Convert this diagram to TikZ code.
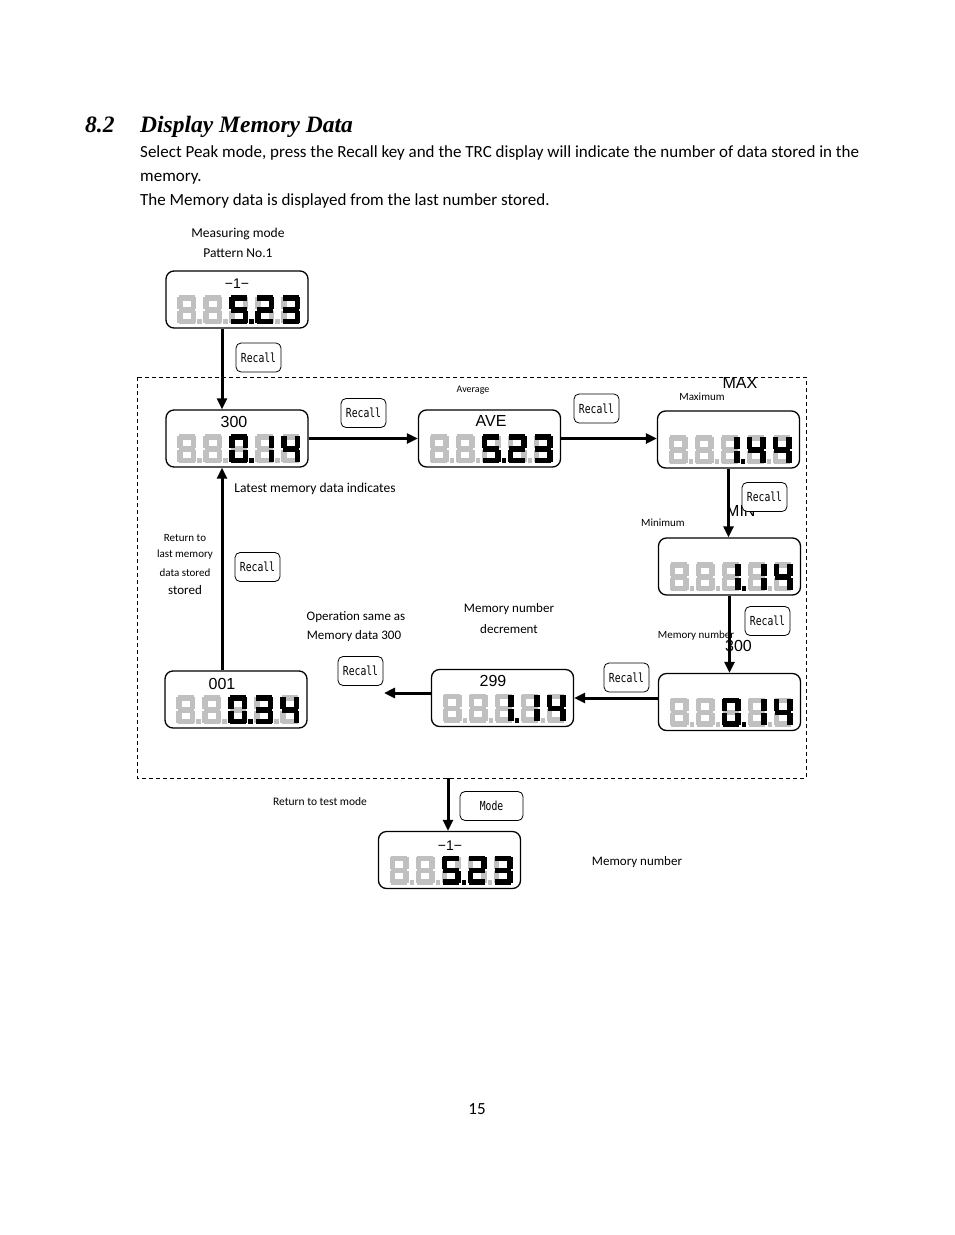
\documentclass[tikz,border=0pt]{standalone}
\usepackage{graphicx}
\usepackage{fontspec}
\setmainfont{Carlito}
\newfontfamily\headfont{Liberation Serif}
\newfontfamily\lcdfont{Liberation Sans}
\newfontfamily\keyfont{DejaVu Sans Mono}
\usetikzlibrary{arrows.meta}

\definecolor{lcdgray}{RGB}{192,192,192}

% seven segment pieces (unit = 1px, y downwards)
\def\sega{(1.5,0) rectangle (17.5,5.5)}
\def\segb{(13.5,1.5) rectangle (19,13.5)}
\def\segc{(13.5,15.5) rectangle (19,27.5)}
\def\segd{(1.5,23.5) rectangle (17.5,29)}
\def\sege{(0,15.5) rectangle (5.5,27.5)}
\def\segf{(0,1.5) rectangle (5.5,13.5)}
\def\segg{(1.5,11.75) rectangle (17.5,17.25)}
\def\segp{(20,24) rectangle (24.5,29)}

\def\dzero{a,b,c,d,e,f}
\def\done{b,c}
\def\dtwo{a,b,g,e,d}
\def\dthree{a,b,g,c,d}
\def\dfour{f,g,b,c}
\def\dfive{a,f,g,c,d}
\def\deight{a,b,c,d,e,f,g}
\def\dpoint{p}

\newcommand{\segdigit}[4]{%
  \begin{scope}[shift={(#1,#2)}]
    \foreach \s in #3 {\fill[#4] \csname seg\s\endcsname;}
  \end{scope}}

\newcommand{\lcdvalue}[4]{%
  \begin{scope}[shift={(#1.north west)}]
    \foreach \k in {0,...,4} {\segdigit{12+\k*26}{25}{\deight}{lcdgray}}
    \foreach \k in {0,1,3} {\segdigit{12+\k*26}{25}{\dpoint}{lcdgray}}
    \segdigit{64}{25}{#2}{black}
    \segdigit{64}{25}{\dpoint}{black}
    \segdigit{90}{25}{#3}{black}
    \segdigit{116}{25}{#4}{black}
  \end{scope}}

\begin{document}
\begin{tikzpicture}[x=1pt,y=-1pt,
  lcd/.style={draw,line width=1.3pt,rounded corners=8pt,minimum width=142pt,minimum height=57pt,inner sep=0pt},
  lcdtag/.style={font=\lcdfont\fontsize{16}{16}\selectfont,inner sep=0pt},
  keybtn/.style={draw,line width=0.8pt,rounded corners=5pt,fill=white,minimum width=45pt,minimum height=29pt,inner sep=0pt,font=\keyfont\fontsize{12.5}{12.5}\selectfont},
  note/.style={font=\fontsize{13.5}{14}\selectfont,inner sep=0pt},
  smallnote/.style={font=\fontsize{11}{12}\selectfont,inner sep=0pt},
  body/.style={font=\fontsize{17}{17}\selectfont,inner sep=0pt,anchor=base west},
  flow/.style={line width=3pt,-{Triangle[length=11pt,width=10pt]}}]
\useasboundingbox (0,0) rectangle (954,1235);

% heading and text
\node[inner sep=0pt,anchor=base west,font=\headfont\bfseries\itshape\fontsize{23.5}{23.5}\selectfont] (secno) at (85,132) {8.2};
\node[inner sep=0pt,anchor=base west,font=\headfont\bfseries\itshape\fontsize{23.5}{23.5}\selectfont] (title) at (140,132) {Display Memory Data};
\node[body] (line1) at (140,157) {Select Peak mode, press the Recall key and the TRC display will indicate the number of data stored in the};
\node[body] (line2) at (140,181) {memory.};
\node[body] (line3) at (140,205) {The Memory data is displayed from the last number stored.};

% dashed frame
\draw[line width=0.8pt,dash pattern=on 4pt off 3pt] (137,377) rectangle (806,778);
\coordinate (fbottom) at (448,778);
\coordinate (opend) at (384,693);

% notes
\node[note] (tmode) at (238,234) {Measuring mode};
\node[note] (tpat) at (238,253) {Pattern No.1};
\node[smallnote,font=\fontsize{10}{10}\selectfont] (tave) at (473,390) {Average};
\node[lcdtag] (tmax) at (740,383) {MAX};
\node[smallnote] (tmaxi) at (702,397) {Maximum};
\node[lcdtag,anchor=west] (tmin) at (726,511) {MIN};
\node[smallnote] (tmini) at (663,523) {Minimum};
\node[smallnote] (tmemno) at (696,636) {Memory number};
\node[lcdtag,anchor=west] (t300) at (725,646) {300};
\node[note] (tlatest) at (315,489) {Latest memory data indicates};
\node[smallnote] (tret1) at (185,538) {Return to};
\node[smallnote] (tret2) at (185,555) {last memory};
\node[smallnote] (tret3) at (185,573) {data stored};
\node[note,font=\fontsize{13}{13}\selectfont] (tret4) at (185,590) {stored};
\node[note,font=\fontsize{13}{13}\selectfont] (tsame1) at (356,617) {Operation same as};
\node[note,font=\fontsize{13}{13}\selectfont] (tsame2) at (354,636) {Memory data 300};
\node[note,font=\fontsize{13}{13}\selectfont] (tdec1) at (509,609) {Memory number};
\node[note,font=\fontsize{13}{13}\selectfont] (tdec2) at (509,629) {decrement};
\node[smallnote,font=\fontsize{11.5}{12}\selectfont] (ttest) at (320,802) {Return to test mode};
\node[note,font=\fontsize{13}{13}\selectfont] (tmemno2) at (637,862) {Memory number};
\node[body,anchor=base] (pageno) at (477,1114) {15};

% displays
\node[lcd] (d1) at (237,299.5) {};
\node[lcd] (d300) at (237,438.5) {};
\node[lcd] (dave) at (489.5,438.5) {};
\node[lcd] (dmax) at (728.5,439.5) {};
\node[lcd] (dmin) at (729.5,566.5) {};
\node[lcd] (dmem) at (729.5,702) {};
\node[lcd] (d299) at (502.5,698) {};
\node[lcd] (d001) at (236,699.5) {};
\node[lcd] (dfin) at (449.5,860) {};

\node[lcdtag,font=\lcdfont\fontsize{14}{14}\selectfont] (l1) at (237,284) {−1−};
\node[lcdtag] (l300) at (234,422) {300};
\node[lcdtag] (lave) at (491,421) {AVE};
\node[lcdtag] (l299) at (493,681) {299};
\node[lcdtag] (l001) at (222,684) {001};
\node[lcdtag,font=\lcdfont\fontsize{14}{14}\selectfont] (lfin) at (450,846) {−1−};

\lcdvalue{d1}{\dfive}{\dtwo}{\dthree}
\lcdvalue{d300}{\dzero}{\done}{\dfour}
\lcdvalue{dave}{\dfive}{\dtwo}{\dthree}
\lcdvalue{dmax}{\done}{\dfour}{\dfour}
\lcdvalue{dmin}{\done}{\done}{\dfour}
\lcdvalue{dmem}{\dzero}{\done}{\dfour}
\lcdvalue{d299}{\done}{\done}{\dfour}
\lcdvalue{d001}{\dzero}{\dthree}{\dfour}
\lcdvalue{dfin}{\dfive}{\dtwo}{\dthree}

% connectors
\draw[flow] ([xshift=-15pt]d1.south) -- ([xshift=-15pt]d300.north);
\draw[flow] (d300.east) -- (dave.west);
\draw[flow] (dave.east) -- (dave.east -| dmax.west);
\draw[flow] (dmax.south) -- (dmax.south |- dmin.north);
\draw[flow] (dmin.south) -- (dmin.south |- dmem.north);
\draw[flow] ([yshift=4pt]dmem.west) -- (d299.east);
\draw[flow] ([yshift=5pt]d299.west) -- (opend);
\draw[flow] ([xshift=-14pt]d001.north) -- ([xshift=-15pt]d300.south);
\draw[flow] (fbottom) -- (fbottom |- dfin.north);

% keys
\node[keybtn] (k1) at (258.5,357.5) {\scalebox{0.78}[1]{Recall}};
\node[keybtn] (k2) at (363.5,413) {\scalebox{0.78}[1]{Recall}};
\node[keybtn] (k3) at (596.5,408.5) {\scalebox{0.78}[1]{Recall}};
\node[keybtn] (k4) at (764.5,497) {\scalebox{0.78}[1]{Recall}};
\node[keybtn] (k5) at (767.5,621) {\scalebox{0.78}[1]{Recall}};
\node[keybtn] (k6) at (626.5,677.5) {\scalebox{0.78}[1]{Recall}};
\node[keybtn] (k7) at (360.5,671) {\scalebox{0.78}[1]{Recall}};
\node[keybtn] (k8) at (257.5,567) {\scalebox{0.78}[1]{Recall}};
\node[keybtn,minimum width=63pt] (kmode) at (491.5,806) {\scalebox{0.78}[1]{Mode}};
\end{tikzpicture}
\end{document}
